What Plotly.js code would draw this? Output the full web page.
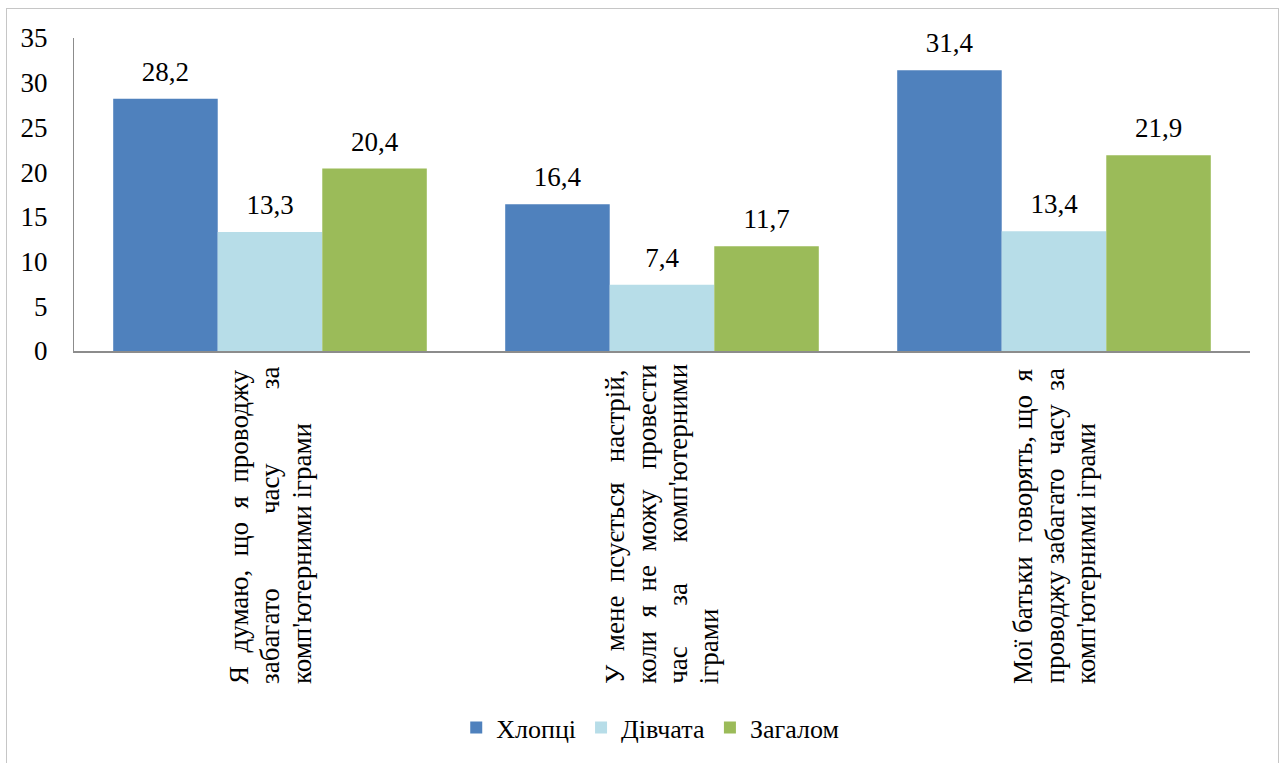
<!DOCTYPE html>
<html>
<head>
<meta charset="utf-8">
<script src="https://cdn.plot.ly/plotly-3.0.1.min.js"></script>
<style>
html,body{margin:0;padding:0;background:#fff;}
#wrap{position:relative;width:1279px;height:763px;overflow:hidden;}
#chart{width:1279px;height:763px;}
#frame{position:absolute;left:6px;top:8px;width:1273px;height:770px;border:1px solid #c6c6c6;box-sizing:border-box;pointer-events:none;}
#measure{position:absolute;left:-5000px;top:0;white-space:pre;font-family:"Times New Roman","Liberation Serif",serif;font-size:27px;visibility:hidden;}
</style>
</head>
<body>
<div id="wrap"><div id="chart"></div><div id="frame"></div></div>
<span id="measure"></span>
<script>
// ---- data ----
const categoryLines = [
  ["Я думаю, що я проводжу", "забагато часу за", "комп'ютерними іграми"],
  ["У мене псується настрій,", "коли я не можу провести", "час за комп'ютерними", "іграми"],
  ["Мої батьки говорять, що я", "проводжу забагато часу за", "комп'ютерними іграми"]
];
const categories = categoryLines.map(l => l.join(' '));
const seriesNames = ["Хлопці", "Дівчата", "Загалом"];
const boys  = [28.2, 16.4, 31.4];
const girls = [13.3, 7.4, 13.4];
const total = [20.4, 11.7, 21.9];
const yTicks = [0, 5, 10, 15, 20, 25, 30, 35];

// ---- style ----
const FONT = "Times New Roman";
const FS = 27;
const colors = ["#4F81BD", "#B7DDE8", "#9BBB59"];
const seriesValues = [boys, girls, total];

// justify category label lines (all but the last line of each label)
const meas = document.getElementById('measure');
function textWidth(s) { meas.textContent = s; return meas.getBoundingClientRect().width; }
const LINE_LEN = 317;
function justify(line, target) {
  const words = line.split(' ');
  if (words.length < 2) return line;
  const natural = textWidth(line);
  const nb = textWidth('\u00A0\u00A0\u00A0\u00A0') / 4 || FS * 0.25;
  const extra = Math.max(0, Math.round((target - natural) / nb));
  const gaps = words.length - 1;
  let out = words[0];
  for (let i = 1; i < words.length; i++) {
    const k = Math.floor(extra * i / gaps) - Math.floor(extra * (i - 1) / gaps);
    out += ' ' + '\u00A0'.repeat(k) + words[i];
  }
  return out;
}

const annotations = [];
const LINE_STEP = 31.5;
categoryLines.forEach((lines, ci) => {
  const n = lines.length;
  lines.forEach((ln, li) => {
    const txt = li < n - 1 ? justify(ln, LINE_LEN) : ln;
    annotations.push({
      x: categories[ci], xref: 'x', y: 0, yref: 'paper',
      xanchor: 'center', yanchor: 'bottom',
      xshift: (li - (n - 1) / 2) * LINE_STEP, yshift: -334,
      textangle: -90, showarrow: false, text: txt,
      font: {family: FONT, size: FS, color: '#000'}, borderpad: 0
    });
  });
});

const barTraces = seriesValues.map((v, i) => ({
  type: 'bar', name: seriesNames[i], x: categories, y: v,
  marker: {color: colors[i], line: {width: 0}}, hoverinfo: 'skip'
}));

const labelTraces = seriesValues.map((v, i) => ({
  type: 'scatter', mode: 'markers+text', x: categories, y: v,
  texttemplate: '%{y:.1f}', textposition: 'top center',
  textfont: {family: FONT, size: FS, color: '#000'},
  marker: {size: 16.4, opacity: 0}, showlegend: false, hoverinfo: 'skip', cliponaxis: false
}));

const layout = {
  width: 1279, height: 763,
  margin: {l: 74, r: 29, t: 38, b: 410, pad: 0},
  paper_bgcolor: '#fff', plot_bgcolor: '#fff',
  separators: ',.',
  font: {family: FONT, size: FS, color: '#000'},
  barmode: 'group', bargap: 0.2, bargroupgap: 0,
  scattermode: 'group', scattergap: 0.2,
  showlegend: true,
  legend: {orientation: 'h', x: 0.49, xanchor: 'center', y: -1.203, yanchor: 'middle',
    font: {family: FONT, size: 26, color: '#000'}, traceorder: 'normal'},
  xaxis: {type: 'category', showticklabels: false, ticks: '', showgrid: false,
    showline: true, linecolor: '#8c8c8c', linewidth: 2, zeroline: false},
  yaxis: {range: [0, 35], tickvals: yTicks, ticktext: yTicks.map(String),
    ticks: '', showgrid: false, showline: true, linecolor: '#8c8c8c', linewidth: 1,
    zeroline: false, ticklabelstandoff: 20, tickfont: {family: FONT, size: FS, color: '#000'}},
  annotations: annotations
};

Plotly.newPlot('chart', barTraces.concat(labelTraces), layout, {displayModeBar: false});
</script>
</body>
</html>
